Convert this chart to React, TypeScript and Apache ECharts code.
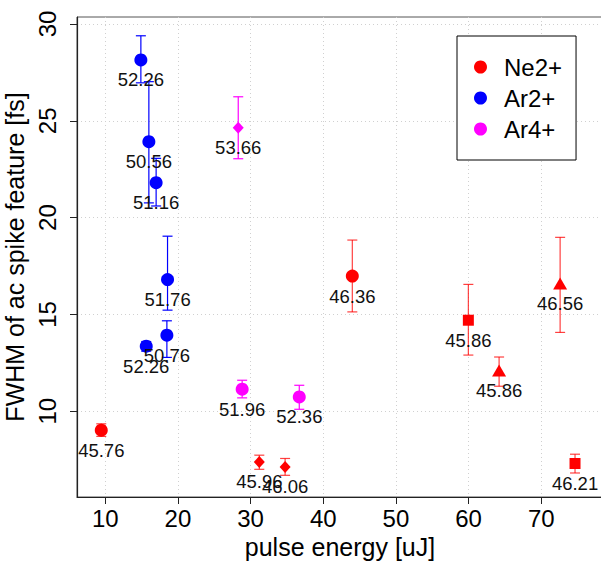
import React, { useEffect, useRef } from "react";
import * as echarts from "echarts";

const xTicks = [10, 20, 30, 40, 50, 60, 70];
const yTicks = [10, 15, 20, 25, 30];

const seriesNames = ["Ne2+", "Ar2+", "Ar4+"];
const seriesColors = ["#ff0000", "#0000ff", "#ff00ff"];
const errColors = ["rgba(255,0,0,0.75)", "#0000ff", "#ff00ff"];

// Ne2+
const neEnergy = [9.45, 31.2, 34.75, 44.0, 59.97, 64.2, 72.6, 74.65];
const neFwhm = [9.02, 7.38, 7.12, 16.98, 14.7, 12.1, 16.6, 7.3];
const neErrLow = [8.7, 7.0, 6.69, 15.13, 12.9, 11.29, 14.07, 6.81];
const neErrHigh = [9.35, 7.73, 7.56, 18.84, 16.55, 12.8, 18.98, 7.78];
const neLabels = ["45.76", "45.96", "46.06", "46.36", "45.86", "45.86", "46.56", "46.21"];
const neShapes = ["circle", "diamond", "diamond", "circle", "square", "triangle", "triangle", "square"];

// Ar2+
const ar2Energy = [14.9, 16.0, 17.0, 18.57, 18.48, 15.64];
const ar2Fwhm = [28.14, 23.92, 21.8, 16.8, 13.93, 13.36];
const ar2ErrLow = [26.96, 20.76, 20.6, 15.22, 12.78, 13.1];
const ar2ErrHigh = [29.39, 27.02, 23.06, 19.04, 14.67, 13.6];
const ar2Labels = ["52.26", "50.56", "51.16", "51.76", "50.76", "52.26"];
const ar2Shapes = ["circle", "circle", "circle", "circle", "circle", "circle"];

// Ar4+
const ar4Energy = [28.3, 28.84, 36.7];
const ar4Fwhm = [24.64, 11.14, 10.74];
const ar4ErrLow = [23.04, 10.69, 10.1];
const ar4ErrHigh = [26.24, 11.6, 11.34];
const ar4Labels = ["53.66", "51.96", "52.36"];
const ar4Shapes = ["diamond", "circle", "circle"];

const FONT = "'Liberation Sans', Arial, Helvetica, sans-serif";

const symbolFor = (s: string) => {
  if (s === "circle") return { symbol: "circle", symbolSize: 13 };
  if (s === "diamond") return { symbol: "diamond", symbolSize: [11, 12] };
  if (s === "square") return { symbol: "rect", symbolSize: 11 };
  return { symbol: "triangle", symbolSize: [14, 12] };
};

const groups = [
  { e: neEnergy, f: neFwhm, lo: neErrLow, hi: neErrHigh, lab: neLabels, sh: neShapes },
  { e: ar2Energy, f: ar2Fwhm, lo: ar2ErrLow, hi: ar2ErrHigh, lab: ar2Labels, sh: ar2Shapes },
  { e: ar4Energy, f: ar4Fwhm, lo: ar4ErrLow, hi: ar4ErrHigh, lab: ar4Labels, sh: ar4Shapes },
];

export default function App() {
  const ref = useRef<HTMLDivElement>(null);
  useEffect(() => {
    if (!ref.current) return;
    const chart = echarts.init(ref.current, undefined, { renderer: "svg" });
    const series: any[] = [];
    groups.forEach((g, gi) => {
      const ec = errColors[gi];
      series.push({
        type: "custom",
        name: seriesNames[gi] + " error",
        z: 2,
        encode: { x: 0, y: [1, 2] },
        data: g.e.map((x, i) => [x, g.lo[i], g.hi[i]]),
        renderItem: (_p: any, api: any) => {
          const x = api.value(0);
          const a = api.coord([x, api.value(2)]);
          const b = api.coord([x, api.value(1)]);
          const style = { stroke: ec, lineWidth: 1.2, fill: "none" };
          return {
            type: "group",
            children: [
              { type: "line", shape: { x1: a[0], y1: a[1], x2: b[0], y2: b[1] }, style },
              { type: "line", shape: { x1: a[0] - 5, y1: a[1], x2: a[0] + 5, y2: a[1] }, style },
              { type: "line", shape: { x1: b[0] - 5, y1: b[1], x2: b[0] + 5, y2: b[1] }, style },
            ],
          };
        },
      });
      series.push({
        type: "scatter",
        name: seriesNames[gi],
        z: 3,
        itemStyle: { color: seriesColors[gi], opacity: 1 },
        label: {
          show: true,
          position: "inside",
          offset: [0, 20],
          formatter: "{b}",
          fontSize: 18.5,
          fontFamily: FONT,
          color: "#111111",
        },
        data: g.e.map((x, i) => ({
          name: g.lab[i],
          value: [x, g.f[i]],
          ...symbolFor(g.sh[i]),
        })),
      });
    });

    chart.setOption({
      animation: false,
      backgroundColor: "#ffffff",
      grid: {
        left: 77,
        top: 17,
        right: -2,
        bottom: 70,
        containLabel: false,
        outerBoundsMode: "none",
        show: true,
        borderColor: "#555555",
        borderWidth: 1,
        backgroundColor: "transparent",
      },
      legend: {
        data: seriesNames,
        orient: "vertical",
        left: 457,
        top: 36,
        icon: "circle",
        itemWidth: 13,
        itemHeight: 13,
        itemGap: 7,
        padding: [19, 14, 19, 17],
        borderColor: "#000000",
        borderWidth: 1,
        backgroundColor: "#ffffff",
        textStyle: { fontSize: 24, fontFamily: FONT, color: "#000000", padding: [0, 0, 0, 12] },
      },
      xAxis: {
        type: "value",
        min: 6.11,
        max: 78.5,
        name: "pulse energy [uJ]",
        nameLocation: "middle",
        nameGap: 37,
        nameTextStyle: { fontSize: 25, fontFamily: FONT, color: "#000000" },
        axisLine: { show: true, lineStyle: { color: "#222222", width: 1.2 } },
        axisTick: { show: true, length: 7, customValues: xTicks, lineStyle: { color: "#222222" } },
        axisLabel: { customValues: xTicks, fontSize: 24, fontFamily: FONT, color: "#000000", margin: 9 },
        splitLine: { show: true, lineStyle: { color: "#d0d0d0", type: [1, 3], width: 1 } },
      },
      yAxis: {
        type: "value",
        min: 5.57,
        max: 30.36,
        name: "FWHM of ac spike feature [fs]",
        nameLocation: "middle",
        nameGap: 38,
        nameTextStyle: { fontSize: 25, fontFamily: FONT, color: "#000000" },
        axisLine: { show: true, lineStyle: { color: "#222222", width: 1.2 } },
        axisTick: { show: true, length: 7, customValues: yTicks, lineStyle: { color: "#222222" } },
        axisLabel: { customValues: yTicks, rotate: 90, fontSize: 24, fontFamily: FONT, color: "#000000", margin: 18 },
        splitLine: { show: true, lineStyle: { color: "#d0d0d0", type: [1, 3], width: 1 } },
      },
      series,
    });
    return () => chart.dispose();
  }, []);
  return (
    <div
      ref={ref}
      style={{ position: "fixed", left: 0, top: 0, width: 601, height: 567, background: "#fff" }}
    />
  );
}
